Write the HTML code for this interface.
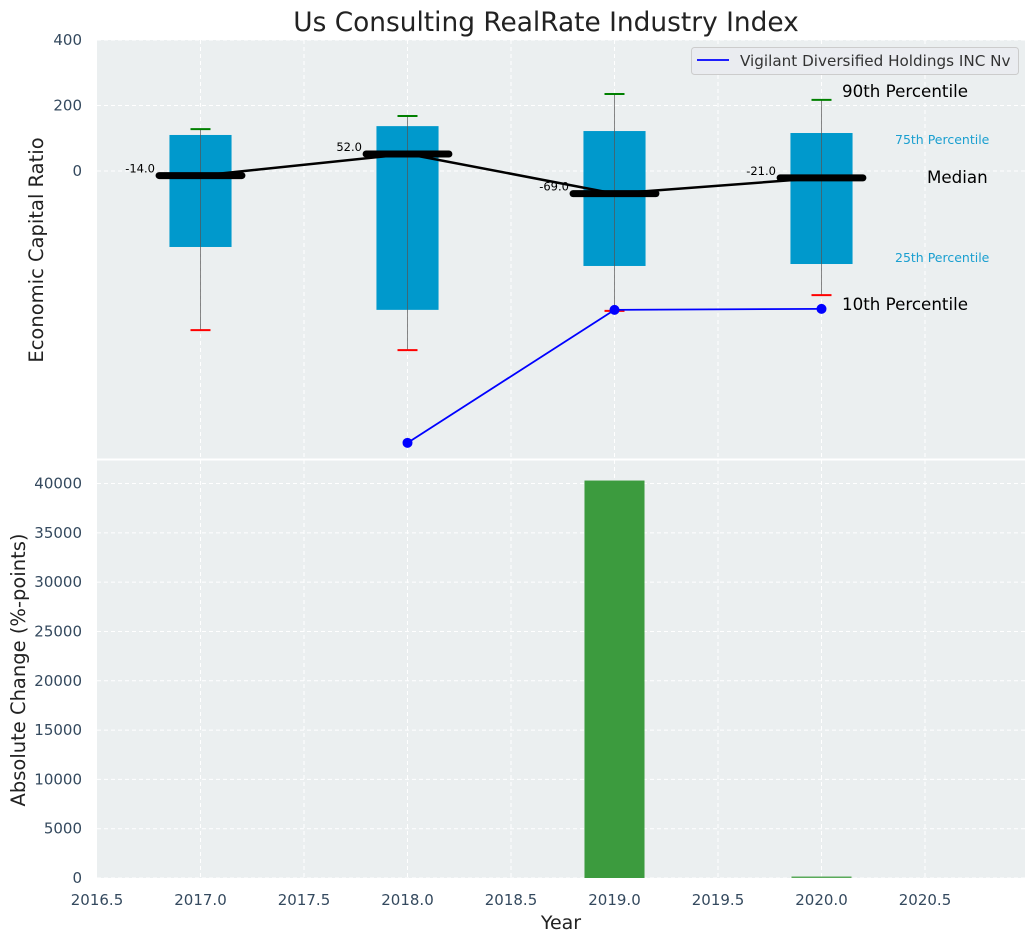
<!DOCTYPE html>
<html><head><meta charset="utf-8">
<style>
body{margin:0;background:#fff;}
svg{display:block;font-family:"DejaVu Sans","Liberation Sans",sans-serif;}
</style></head>
<body>
<svg id="c" width="1036" height="942" xmlns="http://www.w3.org/2000/svg"></svg>
<script>
const years=[2017,2018,2019,2020];
const p10=[-486,-547,-427,-379];
const p25=[-232,-424,-290,-284];
const p50=[-14,52,-69,-21];
const p75=[110,137,122,116];
const p90=[128,168,235,217];
const companyYears=[2018,2019,2020];
const companyVals=[-830,-424,-421];
const changeYears=[2019,2020];
const changeVals=[40300,150];
const xTicks=[2016.5,2017.0,2017.5,2018.0,2018.5,2019.0,2019.5,2020.0,2020.5];
const yTopTicks=[0,200,400];
const yBotTicks=[0,5000,10000,15000,20000,25000,30000,35000,40000];

const NS='http://www.w3.org/2000/svg';
const svg=document.getElementById('c');
function el(t,a,parent){const e=document.createElementNS(NS,t);for(const k in a)e.setAttribute(k,a[k]);(parent||svg).appendChild(e);return e;}
const X0=97,X1=1025;
const x=v=>X0+(v-2016.5)*207;
const TT=40,TB=459;
const yT=v=>171-v*65.5/200;
const BT=460,BB=878;
const yB=v=>BB-v*(878-483.5)/40000;

let t=el('text',{x:546,y:31,'text-anchor':'middle','font-size':26.4,fill:'#222'});t.textContent='Us Consulting RealRate Industry Index';


let bg=el('rect',{x:X0,y:TT,width:X1-X0,height:TB-TT,fill:'#ebeff0'});

bg=el('rect',{x:X0,y:BT,width:X1-X0,height:BB-BT,fill:'#ebeff0'});


xTicks.forEach(v=>{
  if(v===2016.5)return;
  let g=el('line',{x1:x(v),x2:x(v),y1:TT,y2:TB,stroke:'#fff','stroke-dasharray':'4,3','stroke-width':1});
  
  g=el('line',{x1:x(v),x2:x(v),y1:BT,y2:BB,stroke:'#fff','stroke-dasharray':'4,3','stroke-width':1});
  
});
yTopTicks.forEach(v=>{
  let g=el('line',{x1:X0,x2:X1,y1:yT(v),y2:yT(v),stroke:'#fff','stroke-dasharray':'4,3'});
  
  let tx=el('text',{x:82,y:yT(v)+5,'text-anchor':'end','font-size':15,fill:'#34495e'});tx.textContent=v;
  
});
yBotTicks.forEach(v=>{
  let g=el('line',{x1:X0,x2:X1,y1:yB(v),y2:yB(v),stroke:'#fff','stroke-dasharray':'4,3'});
  
  let tx=el('text',{x:82,y:yB(v)+5,'text-anchor':'end','font-size':15,fill:'#34495e'});tx.textContent=v;
  
});
xTicks.forEach(v=>{
  let tx=el('text',{x:x(v),y:905,'text-anchor':'middle','font-size':15,fill:'#34495e'});tx.textContent=v.toFixed(1);
  
});
let sep=el('line',{x1:X0,x2:X1,y1:459.5,y2:459.5,stroke:'#fff','stroke-width':2});


t=el('text',{x:43,y:250,'text-anchor':'middle','font-size':19.5,fill:'#222',transform:'rotate(-90 43 250)'});t.textContent='Economic Capital Ratio';

t=el('text',{x:25,y:670,'text-anchor':'middle','font-size':19.5,fill:'#222',transform:'rotate(-90 25 670)'});t.textContent='Absolute Change (%-points)';

t=el('text',{x:561,y:929,'text-anchor':'middle','font-size':19,fill:'#222'});t.textContent='Year';


const hw=0.15;
years.forEach((yr,i)=>{
  let r=el('rect',{x:x(yr-hw),y:yT(p75[i]),width:x(yr+hw)-x(yr-hw),height:yT(p25[i])-yT(p75[i]),fill:'#0099cc'});
  
  let w=el('line',{x1:x(yr),x2:x(yr),y1:yT(p90[i]),y2:yT(p10[i]),stroke:'#555','stroke-width':1,opacity:0.7});
  
  let c=el('line',{x1:x(yr)-10,x2:x(yr)+10,y1:yT(p90[i]),y2:yT(p90[i]),stroke:'green','stroke-width':2});
  
  c=el('line',{x1:x(yr)-10,x2:x(yr)+10,y1:yT(p10[i]),y2:yT(p10[i]),stroke:'red','stroke-width':2});
  
});
let pts=years.map((yr,i)=>x(yr)+','+yT(p50[i])).join(' ');
let ml=el('polyline',{points:pts,fill:'none',stroke:'#000','stroke-width':2.5});

years.forEach((yr,i)=>{
  let m=el('line',{x1:x(yr-0.2),x2:x(yr+0.2),y1:yT(p50[i]),y2:yT(p50[i]),stroke:'#000','stroke-width':7,'stroke-linecap':'round'});
  
  let l=el('text',{x:x(yr-0.22),y:yT(p50[i])-3,'text-anchor':'end','font-size':11.5,fill:'#000'});l.textContent=p50[i].toFixed(1);
  
});
pts=companyYears.map((yr,i)=>x(yr)+','+yT(companyVals[i])).join(' ');
let cl=el('polyline',{points:pts,fill:'none',stroke:'blue','stroke-width':1.8});

companyYears.forEach((yr,i)=>{
  let d=el('circle',{cx:x(yr),cy:yT(companyVals[i]),r:5,fill:'blue'});
  
});
const ann=[['90th Percentile',842,97,16.7,'#000'],['75th Percentile',895,144,12.5,'#1a9fd0'],['Median',927,183,16.7,'#000'],['25th Percentile',895,262,12.5,'#1a9fd0'],['10th Percentile',842,310,16.7,'#000']];
ann.forEach(a=>{
  let tx=el('text',{x:a[1],y:a[2],'font-size':a[3],fill:a[4]});tx.textContent=a[0];
  
});
let lg=el('rect',{x:691.5,y:47.5,width:327,height:27,fill:'#eaecf0',stroke:'#ccc',rx:3});

let ll=el('line',{x1:697,x2:729,y1:60,y2:60,stroke:'blue','stroke-width':1.8});

t=el('text',{x:740,y:66,'font-size':15.2,fill:'#333'});t.textContent='Vigilant Diversified Holdings INC Nv';


changeYears.forEach((yr,i)=>{
  let h=Math.max(1.5,BB-yB(changeVals[i]));
  let b=el('rect',{x:x(yr-0.145),y:BB-h,width:x(yr+0.145)-x(yr-0.145),height:h,fill:i===0?'#3c9b3e':'#5aaa5a'});
  
});
</script>
</body></html>
